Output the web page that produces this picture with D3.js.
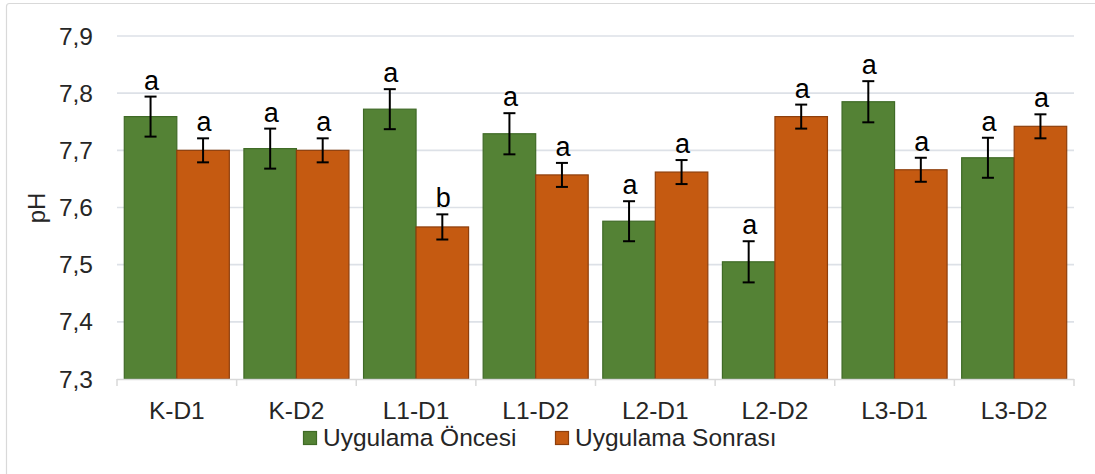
<!DOCTYPE html>
<html>
<head>
<meta charset="utf-8">
<script src="https://cdn.jsdelivr.net/npm/d3@7"></script>
<style>
  html, body { margin: 0; padding: 0; background: #fff; }
  svg { display: block; font-family: "Liberation Sans", Arial, sans-serif; }
</style>
</head>
<body>
<svg id="chart" width="1095" height="474"></svg>
<script>
const categories = ["K-D1", "K-D2", "L1-D1", "L1-D2", "L2-D1", "L2-D2", "L3-D1", "L3-D2"];
const seriesNames = ["Uygulama Öncesi", "Uygulama Sonrası"];
const beforeValues = [7.759, 7.703, 7.772, 7.729, 7.576, 7.505, 7.785, 7.687];
const beforeErrors = [0.035, 0.035, 0.035, 0.036, 0.035, 0.036, 0.036, 0.035];
const beforeLetters = ["a", "a", "a", "a", "a", "a", "a", "a"];
const afterValues = [7.700, 7.700, 7.566, 7.657, 7.662, 7.759, 7.666, 7.742];
const afterErrors = [0.021, 0.021, 0.022, 0.021, 0.021, 0.021, 0.021, 0.021];
const afterLetters = ["a", "a", "b", "a", "a", "a", "a", "a"];
const yTicks = [7.3, 7.4, 7.5, 7.6, 7.7, 7.8, 7.9];
const yLabel = "pH";

const colors = { fill: ["#548235", "#C55A11"], stroke: ["#3F6A26", "#8E3F0C"] };
const svg = d3.select("#chart");
const plot = { left: 117, right: 1074, top: 36, bottom: 379 };

// outer chart border
svg.append("rect").attr("x", 6.5).attr("y", 3.5).attr("width", 1100).attr("height", 500)
  .attr("rx", 3).attr("fill", "#fff").attr("stroke", "#d9d9d9").attr("stroke-width", 1.2);

const y = d3.scaleLinear().domain([7.3, 7.9]).range([plot.bottom, plot.top]);
const x0 = d3.scaleBand().domain(categories).range([plot.left, plot.right]).padding(0);
const gap = x0.bandwidth() * 0.061;
const x1 = d3.scaleBand().domain(seriesNames).range([gap, x0.bandwidth() - gap]).padding(0);

// gridlines
svg.append("g").selectAll("line").data(yTicks.slice(1)).join("line")
  .attr("x1", plot.left).attr("x2", plot.right)
  .attr("y1", d => y(d)).attr("y2", d => y(d))
  .attr("stroke", "#dde1e7").attr("stroke-width", 1.6);

// y tick labels
const fmt = d => d3.format(".1f")(d).replace(".", ",");
svg.append("g").selectAll("text").data(yTicks).join("text")
  .attr("x", 93).attr("y", d => y(d)).attr("dy", "0.35em")
  .attr("text-anchor", "end").attr("font-size", 24.5).attr("fill", "#262626")
  .text(fmt);

// y title
svg.append("text").attr("transform", "translate(45,208) rotate(-90)")
  .attr("text-anchor", "middle").attr("font-size", 24).attr("fill", "#262626").text(yLabel);

// data rows
const rows = categories.map((c, i) => [
  { cat: c, s: seriesNames[0], si: 0, v: beforeValues[i], e: beforeErrors[i], l: beforeLetters[i] },
  { cat: c, s: seriesNames[1], si: 1, v: afterValues[i], e: afterErrors[i], l: afterLetters[i] }
]).flat();

// bars
svg.append("g").selectAll("rect").data(rows).join("rect")
  .attr("x", d => x0(d.cat) + x1(d.s))
  .attr("y", d => y(d.v))
  .attr("width", x1.bandwidth())
  .attr("height", d => y(7.3) - y(d.v))
  .attr("fill", d => colors.fill[d.si])
  .attr("stroke", d => colors.stroke[d.si]).attr("stroke-width", 1.2);

// x axis
const xAxisG = svg.append("g");
xAxisG.append("line").attr("x1", plot.left).attr("x2", plot.right)
  .attr("y1", plot.bottom + 0.5).attr("y2", plot.bottom + 0.5)
  .attr("stroke", "#d9d9d9").attr("stroke-width", 1.5);
const bounds = categories.map(c => x0(c)).concat([plot.right]);
xAxisG.selectAll("line.tick").data(bounds).join("line").attr("class", "tick")
  .attr("x1", d => d).attr("x2", d => d)
  .attr("y1", plot.bottom).attr("y2", plot.bottom + 7)
  .attr("stroke", "#d9d9d9").attr("stroke-width", 1.5);
xAxisG.selectAll("text").data(categories).join("text")
  .attr("x", d => x0(d) + x0.bandwidth() / 2).attr("y", 419)
  .attr("text-anchor", "middle").attr("font-size", 24.5).attr("fill", "#262626")
  .text(d => d);

// error bars
const eg = svg.append("g").attr("stroke", "#000").attr("stroke-width", 2);
const cx = d => x0(d.cat) + x1(d.s) + x1.bandwidth() / 2;
eg.selectAll("line.v").data(rows).join("line").attr("class", "v")
  .attr("x1", cx).attr("x2", cx)
  .attr("y1", d => y(d.v + d.e)).attr("y2", d => y(d.v - d.e));
eg.selectAll("line.t").data(rows).join("line").attr("class", "t")
  .attr("x1", d => cx(d) - 6).attr("x2", d => cx(d) + 6)
  .attr("y1", d => y(d.v + d.e)).attr("y2", d => y(d.v + d.e));
eg.selectAll("line.b").data(rows).join("line").attr("class", "b")
  .attr("x1", d => cx(d) - 6).attr("x2", d => cx(d) + 6)
  .attr("y1", d => y(d.v - d.e)).attr("y2", d => y(d.v - d.e));

// significance letters
svg.append("g").selectAll("text").data(rows).join("text")
  .attr("x", d => cx(d) + 1).attr("y", d => y(d.v + d.e) - 7)
  .attr("text-anchor", "middle").attr("font-size", 27).attr("fill", "#000")
  .text(d => d.l);

// legend
const legendItems = [
  { name: seriesNames[0], x: 303 },
  { name: seriesNames[1], x: 555 }
];
const lg = svg.append("g");
legendItems.forEach((it, i) => {
  lg.append("rect").attr("x", it.x + 0.5).attr("y", 431.5).attr("width", 13).attr("height", 13)
    .attr("fill", colors.fill[i]).attr("stroke", colors.stroke[i]).attr("stroke-width", 1.2);
  lg.append("text").attr("x", it.x + 20).attr("y", 446)
    .attr("font-size", 24.5).attr("fill", "#262626").text(it.name);
});
</script>
</body>
</html>
